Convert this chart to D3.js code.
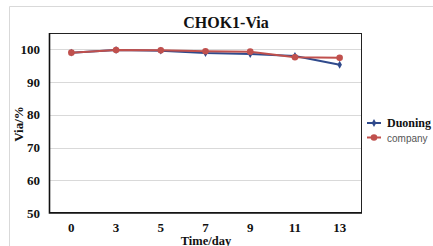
<!DOCTYPE html>
<html>
<head>
<meta charset="utf-8">
<script src="https://cdn.jsdelivr.net/npm/d3@7"></script>
<style>
  body { margin: 0; background: #fff; }
  svg { display: block; }
</style>
</head>
<body>
<div id="chart"></div>
<script>
const days = ['0', '3', '5', '7', '9', '11', '13']
const duoning = [99.0, 99.8, 99.6, 98.9, 98.6, 98.0, 95.3]
const company = [99.0, 99.8, 99.7, 99.4, 99.3, 97.6, 97.4]
const yTicks = [50, 60, 70, 80, 90, 100]

const width = 433,
      height = 246,
      margin = { top: 33, right: 71, bottom: 33, left: 49 },
      serif = '"Liberation Serif", "Times New Roman", serif',
      blue = '#2F4A8C',
      red = '#C0504D'

const svg = d3.select('#chart')
  .append('svg')
  .attr('width', width)
  .attr('height', height)

// outer chart frame (only left and top visible in the crop)
svg.append('path')
  .attr('d', `M9.5,${height}V6.5H${width}`)
  .attr('fill', 'none')
  .attr('stroke', '#d9d9d9')

const x = d3.scaleBand()
  .domain(days)
  .range([margin.left, width - margin.right])

const y = d3.scaleLinear()
  .domain([50, 105])
  .range([height - margin.bottom, margin.top])

// gridlines
svg.selectAll('line.grid')
  .data(yTicks.filter(d => d > 50))
  .enter()
  .append('line')
    .attr('class', 'grid')
    .attr('x1', margin.left)
    .attr('x2', width - margin.right)
    .attr('y1', d => Math.round(y(d)) + 0.5)
    .attr('y2', d => Math.round(y(d)) + 0.5)
    .attr('stroke', '#d9d9d9')

// plot frame
svg.append('rect')
  .attr('x', margin.left + 0.5)
  .attr('y', margin.top + 0.5)
  .attr('width', width - margin.left - margin.right - 1)
  .attr('height', height - margin.top - margin.bottom - 1)
  .attr('fill', 'none')
  .attr('stroke', '#222')
  .attr('stroke-width', 1)

svg.append('path')
  .attr('d', `M${margin.left + 0.5},${margin.top}V${height - margin.bottom}H${width - margin.right}`)
  .attr('fill', 'none')
  .attr('stroke', '#111')
  .attr('stroke-width', 1.6)

// y tick labels
svg.selectAll('text.ytick')
  .data(yTicks)
  .enter()
  .append('text')
    .attr('class', 'ytick')
    .attr('x', 40)
    .attr('y', d => y(d) + 4.5)
    .attr('text-anchor', 'end')
    .attr('font-family', serif)
    .attr('font-weight', 'bold')
    .attr('font-size', 13)
    .attr('fill', '#111')
    .text(d => d)

// x tick labels
svg.selectAll('text.xtick')
  .data(days)
  .enter()
  .append('text')
    .attr('class', 'xtick')
    .attr('x', d => x(d) + x.bandwidth() / 2)
    .attr('y', 232)
    .attr('text-anchor', 'middle')
    .attr('font-family', serif)
    .attr('font-weight', 'bold')
    .attr('font-size', 13)
    .attr('fill', '#111')
    .text(d => d)

// titles
svg.append('text')
  .attr('x', 226)
  .attr('y', 28)
  .attr('text-anchor', 'middle')
  .attr('font-family', serif)
  .attr('font-weight', 'bold')
  .attr('font-size', 16)
  .attr('fill', '#111')
  .text('CHOK1-Via')

svg.append('text')
  .attr('x', 206)
  .attr('y', 244.5)
  .attr('text-anchor', 'middle')
  .attr('font-family', serif)
  .attr('font-weight', 'bold')
  .attr('font-size', 12.5)
  .attr('fill', '#111')
  .text('Time/day')

svg.append('text')
  .attr('transform', 'translate(23, 124) rotate(-90)')
  .attr('text-anchor', 'middle')
  .attr('font-family', serif)
  .attr('font-weight', 'bold')
  .attr('font-size', 13)
  .attr('fill', '#111')
  .text('Via/%')

// series
const series = [
  { name: 'Duoning', values: duoning, color: blue, marker: d3.symbolDiamond, size: 18, font: serif, weight: 'bold', fs: 12, textColor: '#111' },
  { name: 'company', values: company, color: red, marker: d3.symbolCircle, size: 34, font: '"Liberation Sans", Arial, sans-serif', weight: 'normal', fs: 10, textColor: '#555' }
]

const line = d3.line()
  .x((d, i) => x(days[i]) + x.bandwidth() / 2)
  .y(d => y(d))

series.forEach(s => {
  svg.append('path')
    .attr('d', line(s.values))
    .attr('fill', 'none')
    .attr('stroke', s.color)
    .attr('stroke-width', 2)

  svg.selectAll(null)
    .data(s.values)
    .enter()
    .append('path')
      .attr('d', d3.symbol().type(s.marker).size(s.size))
      .attr('transform', (d, i) => `translate(${x(days[i]) + x.bandwidth() / 2}, ${y(d)})`)
      .attr('fill', s.color)
})

// legend
const legend = svg.selectAll('g.legend')
  .data(series)
  .enter()
  .append('g')
    .attr('class', 'legend')
    .attr('transform', (d, i) => `translate(367, ${123 + i * 14.5})`)

legend.append('line')
  .attr('x1', 0)
  .attr('x2', 14)
  .attr('stroke', d => d.color)
  .attr('stroke-width', 2)

legend.append('path')
  .attr('d', d => d3.symbol().type(d.marker).size(d.size)())
  .attr('transform', 'translate(7,0)')
  .attr('fill', d => d.color)

legend.append('text')
  .attr('x', 20)
  .attr('y', 4)
  .attr('font-family', d => d.font)
  .attr('font-weight', d => d.weight)
  .attr('font-size', d => d.fs)
  .attr('fill', d => d.textColor)
  .text(d => d.name)
</script>
</body>
</html>
